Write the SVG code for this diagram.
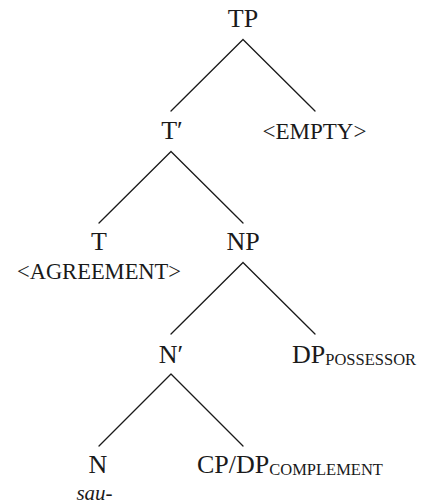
<svg xmlns="http://www.w3.org/2000/svg" width="424" height="504" viewBox="0 0 424 504">
  <style>
    text { font-family: "Liberation Serif", "Times New Roman", serif; fill: #1a1a1a; }
    .lab { font-size: 26px; text-anchor: middle; }
    .feat { font-size: 23px; text-anchor: middle; }
    .sub { font-size: 16.5px; }
    .form { font-size: 21px; font-style: italic; text-anchor: middle; }
    .edge { stroke: #1a1a1a; stroke-width: 1.3; fill: none; stroke-linecap: round; }
  </style>
  <rect width="424" height="504" fill="#ffffff"/>

  <!-- branches -->
  <g id="edges">
    <path class="edge" d="M243,39.5 L171,111 M243,39.5 L315,111"/>
    <path class="edge" d="M171,151.5 L99,223 M171,151.5 L243,223"/>
    <path class="edge" d="M243,262.5 L171,334 M243,262.5 L315,334"/>
    <path class="edge" d="M171,374 L99,446 M171,374 L243,446"/>
  </g>

  <g id="tp"><text class="lab" x="243" y="27">TP</text></g>
  <g id="tbar"><text class="lab" x="172" y="139">T′</text></g>
  <g id="empty"><text class="feat" x="314.5" y="139">&lt;EMPTY&gt;</text></g>
  <g id="t">
    <text class="lab" x="99" y="250">T</text>
    <text class="feat" x="99" y="279" style="font-size:22.5px">&lt;AGREEMENT&gt;</text>
  </g>
  <g id="np"><text class="lab" x="243" y="250">NP</text></g>
  <g id="nbar"><text class="lab" x="171" y="363">N′</text></g>
  <g id="dp-possessor">
    <text x="292" y="363" style="font-size:26px">DP<tspan class="sub" dy="1.5">POSSESSOR</tspan></text>
  </g>
  <g id="n">
    <text class="lab" x="98" y="473">N</text>
    <text class="form" x="94.5" y="499.5">sau-</text>
  </g>
  <g id="cp-dp-complement">
    <text x="197" y="473" style="font-size:26px">CP/DP<tspan class="sub" dy="1.5">COMPLEMENT</tspan></text>
  </g>
</svg>
